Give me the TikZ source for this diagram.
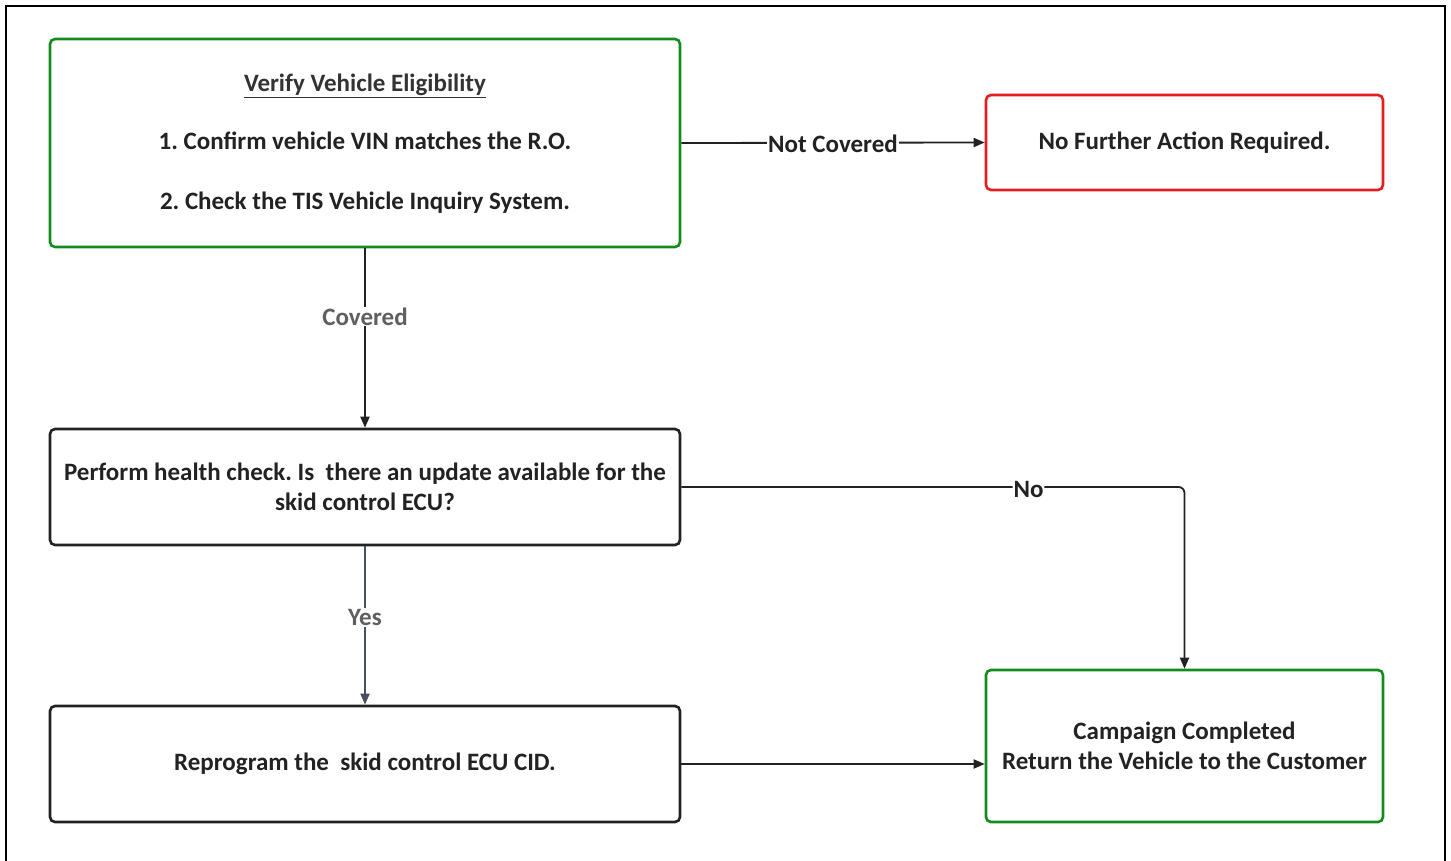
\documentclass[tikz,border=0pt]{standalone}
\usepackage{fontspec}
\setmainfont{Carlito}
\usetikzlibrary{arrows.meta,calc}
\definecolor{boxgreen}{RGB}{18,140,28}
\definecolor{boxred}{RGB}{226,30,30}
\definecolor{txt}{RGB}{34,34,34}
\definecolor{lblgray}{RGB}{95,95,95}
\definecolor{slate}{RGB}{72,80,96}
\frenchspacing
\begin{document}
\begin{tikzpicture}[x=1pt,y=-1pt,
  every node/.style={font=\fontsize{25}{30}\selectfont\bfseries, text=txt},
  box/.style={draw, line width=2.6pt, rounded corners=5pt, align=center, inner sep=0pt, fill=white},
  gbox/.style={box, draw=boxgreen},
  rbox/.style={box, draw=boxred},
  kbox/.style={box, draw=txt},
  conn/.style={draw=txt, line width=1.8pt, -{Triangle[length=11pt,width=9pt]}},
  lbl/.style={fill=white, inner sep=1pt},
  glbl/.style={lbl, text=lblgray}
]
\useasboundingbox (0,0) rectangle (1451,861);
\fill[white] (0,0) rectangle (1451,861);
\draw[line width=2.5pt, black] (6,861) -- (6,6) -- (1445,6) -- (1445,861);

\node[gbox, minimum width=630pt, minimum height=208pt] (A) at (365,143) {};
\node[text=black!80] (At) at (365,86) {\underline{Verify Vehicle Eligibility}};
\node (A1) at (365,141) {1. Confirm vehicle VIN matches the R.O.};
\node (A2) at (365,203) {2. Check the TIS Vehicle Inquiry System.};

\node[rbox, minimum width=397pt, minimum height=95pt] (B) at (1184.5,142.5) {No Further Action Required.};

\node[kbox, minimum width=630pt, minimum height=116pt] (C) at (365,487)
  {Perform health check. Is~ there an update available for the\\skid control ECU?};

\node[kbox, minimum width=630pt, minimum height=116pt] (D) at (365,764)
  {Reprogram the~ skid control ECU CID.};

\node[gbox, minimum width=397pt, minimum height=152pt] (E) at (1184.5,746)
  {Campaign Completed\\Return the Vehicle to the Customer};

\draw[conn] (A.east) -- node[lbl, yshift=-1.5pt]{Not Covered} (B.west);
\draw[conn] (A.south) -- node[glbl, pos=0.38]{Covered} (C.north);
\draw[conn, draw=slate] (C.south) -- node[glbl, pos=0.45]{Yes} (D.north);
\draw[conn, rounded corners=6pt] (C.east) -- node[lbl, pos=0.69, yshift=-2pt]{No} (C.east -| E.north) -- (E.north);
\draw[conn] (D.east) -- (D.east -| E.west);
\end{tikzpicture}
\end{document}
